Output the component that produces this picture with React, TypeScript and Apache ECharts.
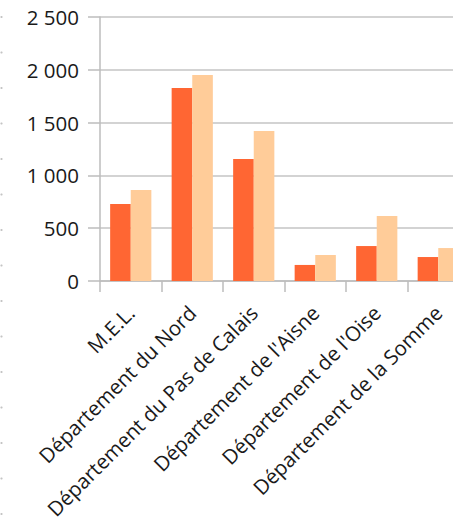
import React, { useEffect, useRef } from "react";
import * as echarts from "echarts";

const categories = [
  "M.E.L.",
  "Département du Nord",
  "Département du Pas de Calais",
  "Département de l'Aisne",
  "Département de l'Oise",
  "Département de la Somme",
];
const seriesA = [730, 1828, 1155, 152, 331, 227];
const seriesB = [862, 1951, 1420, 246, 616, 312];
const yTicks = [0, 500, 1000, 1500, 2000, 2500];

const fmt = (v: number) =>
  v >= 1000 ? `${Math.floor(v / 1000)} ${String(v % 1000).padStart(3, "0")}` : String(v);

export default function App() {
  const ref = useRef<HTMLDivElement>(null);
  useEffect(() => {
    if (!ref.current) return;
    const chart = echarts.init(ref.current, null, { renderer: "svg" });
    const dots: any[] = [];
    for (let i = 0; i < 15; i++) {
      dots.push({
        type: "circle",
        shape: { cx: 1.5, cy: 17 + i * 35.5, r: 1.1 },
        style: { fill: "#c4c4c4" },
        silent: true,
      });
    }
    chart.setOption({
      animation: false,
      textStyle: { fontFamily: "Open Sans" },
      grid: {
        left: 100,
        right: 11,
        top: 17,
        bottom: 517 - 281,
        containLabel: false,
        outerBoundsMode: "none",
      },
      graphic: dots,
      xAxis: {
        type: "category",
        data: categories,
        axisLine: { lineStyle: { color: "#bdbdbd", width: 1.5 } },
        axisTick: { show: true, length: 11, lineStyle: { color: "#bdbdbd", width: 1.5 } },
        axisLabel: {
          interval: 0,
          rotate: 45,
          margin: 28,
          fontSize: 20.5,
          color: "#1a1a1a",
          fontFamily: "Open Sans",
        },
      },
      yAxis: {
        type: "value",
        min: yTicks[0],
        max: yTicks[yTicks.length - 1],
        interval: 500,
        axisLine: { show: true, lineStyle: { color: "#bdbdbd", width: 1.5 } },
        axisTick: { show: true, length: 12, lineStyle: { color: "#bdbdbd", width: 1.5 } },
        splitLine: { lineStyle: { color: "#c4c4c4", width: 1.5 } },
        axisLabel: {
          margin: 21,
          fontSize: 20.5,
          color: "#1a1a1a",
          fontFamily: "Open Sans",
          formatter: (v: number) => fmt(v),
        },
      },
      series: [
        {
          type: "bar",
          data: seriesA,
          barGap: "0%",
          barCategoryGap: "33%",
          itemStyle: { color: "#FF6633" },
        },
        {
          type: "bar",
          data: seriesB,
          itemStyle: { color: "#FFCC99" },
        },
      ],
    });
    return () => chart.dispose();
  }, []);
  return (
    <div
      style={{
        position: "fixed",
        left: 0,
        top: 0,
        width: 453,
        height: 517,
        overflow: "hidden",
        background: "#fff",
      }}
    >
      <div ref={ref} style={{ width: 480, height: 517 }} />
    </div>
  );
}
